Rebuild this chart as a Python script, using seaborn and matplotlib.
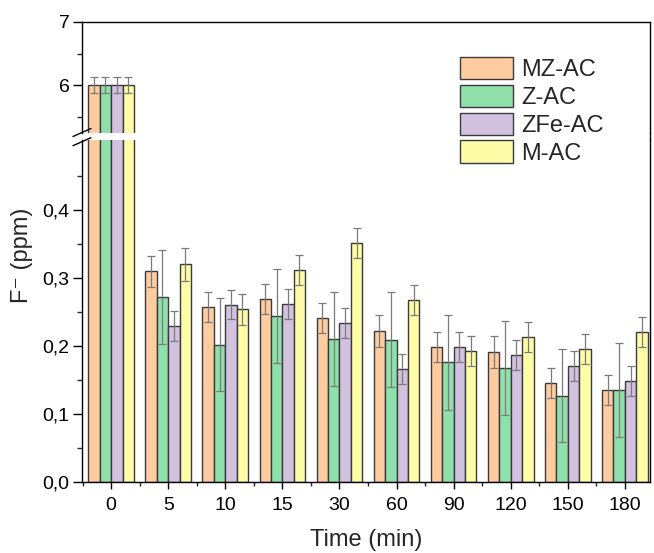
import matplotlib
matplotlib.use("Agg")
import matplotlib.pyplot as plt
import matplotlib.ticker as mticker
from matplotlib.lines import Line2D
from matplotlib.patches import Patch
import seaborn as sns
import pandas as pd

# ---- data ----
times = ["0", "5", "10", "15", "30", "60", "90", "120", "150", "180"]
series = ["MZ-AC", "Z-AC", "ZFe-AC", "M-AC"]
mz_ac = [6.0, 0.310, 0.258, 0.269, 0.241, 0.222, 0.199, 0.191, 0.145, 0.135]
z_ac = [6.0, 0.272, 0.202, 0.244, 0.210, 0.209, 0.176, 0.168, 0.127, 0.135]
zfe_ac = [6.0, 0.229, 0.261, 0.262, 0.234, 0.166, 0.198, 0.187, 0.170, 0.148]
m_ac = [6.0, 0.320, 0.254, 0.312, 0.351, 0.267, 0.193, 0.213, 0.196, 0.221]
mz_err = [0.13, 0.023, 0.022, 0.022, 0.022, 0.023, 0.022, 0.023, 0.022, 0.022]
z_err = [0.13, 0.069, 0.068, 0.069, 0.069, 0.070, 0.070, 0.069, 0.068, 0.069]
zfe_err = [0.13, 0.022, 0.021, 0.022, 0.022, 0.022, 0.022, 0.022, 0.022, 0.022]
m_err = [0.13, 0.024, 0.023, 0.022, 0.022, 0.022, 0.022, 0.022, 0.022, 0.022]
colors = ["#FFCCA0", "#90E0AC", "#D2C2E0", "#FFFCA8"]

values = [mz_ac, z_ac, zfe_ac, m_ac]
errors = [mz_err, z_err, zfe_err, m_err]

rows = []
for s, vals in zip(series, values):
    for t, v in zip(times, vals):
        rows.append({"Time": t, "Series": s, "F": v})
df = pd.DataFrame(rows)

sns.set_style("ticks")
plt.rcParams["font.family"] = ["Liberation Sans", "DejaVu Sans"]

W, H = 654, 553
fig = plt.figure(figsize=(W / 100, H / 100), dpi=100)
L, R = 82, 650
ax_top = fig.add_axes([L / W, (H - 133) / H, (R - L) / W, 111 / H])
ax_bot = fig.add_axes([L / W, (H - 482) / H, (R - L) / W, (482 - 140) / H])

edge = "#3a3a3a"
for ax in (ax_top, ax_bot):
    sns.barplot(data=df, x="Time", y="F", hue="Series", order=times,
                hue_order=series, palette=colors, errorbar=None,
                edgecolor=edge, linewidth=1.0, legend=False, ax=ax,
                saturation=1)
    for cont, err in zip(ax.containers, errors):
        xs = [p.get_x() + p.get_width() / 2 for p in cont.patches]
        ys = [p.get_height() for p in cont.patches]
        ax.errorbar(xs, ys, yerr=err, fmt="none", ecolor="#7a7a7a",
                    elinewidth=0.9, capsize=3.0, capthick=0.9, zorder=5)
    ax.set_xlim(-0.51, 9.44)
    ax.set_xlabel("")
    ax.set_ylabel("")
    for sp in ax.spines.values():
        sp.set_linewidth(1.0)
        sp.set_color("black")
    ax.tick_params(axis="y", which="major", direction="out", length=6.5,
                   width=1.0, labelsize=14, pad=2.5, colors="black")
    ax.tick_params(axis="y", which="minor", direction="out", length=3.5,
                   width=1.0)

ax_top.set_ylim(5.24, 7)
ax_top.set_yticks([6, 7])
ax_top.yaxis.set_minor_locator(mticker.FixedLocator([5.5, 6.5]))
ax_top.yaxis.set_major_formatter(mticker.FuncFormatter(lambda v, p: f"{v:.0f}"))
ax_top.spines["bottom"].set_visible(False)
ax_top.tick_params(axis="x", which="both", bottom=False, labelbottom=False)

ax_bot.set_ylim(0, (482 - 140) / 680)
ax_bot.set_yticks([0.0, 0.1, 0.2, 0.3, 0.4])
ax_bot.yaxis.set_minor_locator(mticker.FixedLocator([0.05, 0.15, 0.25, 0.35, 0.45]))
ax_bot.yaxis.set_major_formatter(
    mticker.FuncFormatter(lambda v, p: f"{v:.1f}".replace(".", ",")))
ax_bot.spines["top"].set_visible(False)
ax_bot.xaxis.set_minor_locator(mticker.FixedLocator([i + 0.5 for i in range(-1, 9)]))
ax_bot.tick_params(axis="x", which="major", direction="out", length=5,
                   width=1.0, labelsize=14, pad=6, colors="black")
ax_bot.tick_params(axis="x", which="minor", direction="out", length=3,
                   width=1.0)

# right spine through the break gap
fig.add_artist(Line2D([R / W, R / W], [(H - 140) / H, (H - 133) / H],
                      color="black", lw=1.0))
# break marks on the left spine
for cy in (132.5, 141.7):
    fig.add_artist(Line2D([(L - 9) / W, (L + 9) / W],
                          [(H - cy + 4) / H - 8 / H, (H - cy + 4) / H],
                          color="black", lw=1.0))

fig.text(22 / W, 1 - 255 / H, "F\u207b (ppm)", rotation=90, fontsize=17,
         ha="center", va="center")
fig.text((L + R) / 2 / W, 1 - 540 / H, "Time (min)", fontsize=17,
         ha="center", va="center")

handles = [Patch(facecolor=c, edgecolor=edge, linewidth=1.0) for c in colors]
fig.legend(handles, series, loc="upper left",
           bbox_to_anchor=(455 / W, 1 - 52 / H), frameon=False, fontsize=17,
           handlelength=2.25, handleheight=1.1, handletextpad=0.35,
           labelspacing=0.15, borderaxespad=0, borderpad=0.2)

fig.savefig("out.png", dpi=100)
